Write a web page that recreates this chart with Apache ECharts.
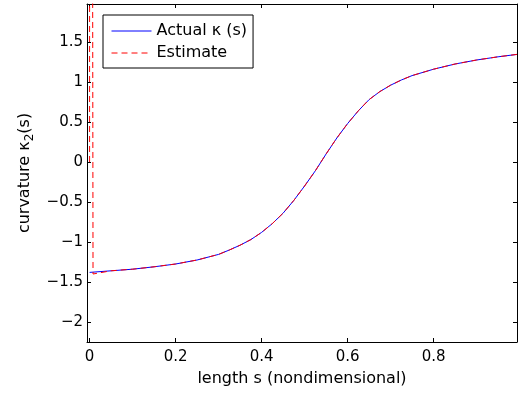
<!DOCTYPE html>
<html><head><meta charset="utf-8">
<script src="https://cdn.jsdelivr.net/npm/echarts@6/dist/echarts.min.js"></script>
<style>html,body{margin:0;padding:0;background:#fff}#c{width:525px;height:394px}</style>
</head><body><div id="c"></div>
<script>
// length s (nondimensional)
const sActual = [0, 0.05, 0.1, 0.15, 0.2, 0.25, 0.3, 0.325, 0.35, 0.375, 0.4, 0.425, 0.45, 0.475, 0.5, 0.525, 0.55, 0.575, 0.6, 0.625, 0.65, 0.675, 0.7, 0.725, 0.75, 0.8, 0.85, 0.9, 0.95, 0.994];
// actual curvature
const kActual = [-1.38, -1.36, -1.34, -1.31, -1.275, -1.225, -1.155, -1.10, -1.04, -0.97, -0.88, -0.77, -0.64, -0.48, -0.30, -0.11, 0.10, 0.30, 0.48, 0.64, 0.78, 0.88, 0.96, 1.025, 1.08, 1.16, 1.225, 1.275, 1.315, 1.345];
// estimate (spike near s = 0, then follows the actual curve)
const sEstimate = [0, 0.0005, 0.008, 0.05, 0.1, 0.15, 0.2, 0.25, 0.3, 0.325, 0.35, 0.375, 0.4, 0.425, 0.45, 0.475, 0.5, 0.525, 0.55, 0.575, 0.6, 0.625, 0.65, 0.675, 0.7, 0.725, 0.75, 0.8, 0.85, 0.9, 0.95, 0.994];
const kEstimate = [0.0, 30, -1.40, -1.36, -1.34, -1.31, -1.275, -1.225, -1.155, -1.10, -1.04, -0.97, -0.88, -0.77, -0.64, -0.48, -0.30, -0.11, 0.10, 0.30, 0.48, 0.64, 0.78, 0.88, 0.96, 1.025, 1.08, 1.16, 1.225, 1.275, 1.315, 1.345];
const xTicks = [0, 0.2, 0.4, 0.6, 0.8];
const yTicks = [-2, -1.5, -1, -0.5, 0, 0.5, 1, 1.5];
const seriesNames = ['Actual \u03ba (s)', 'Estimate'];

const FONT = 'DejaVu Sans';
const fmt = v => String(v).replace('-', '\u2212');
const pair = (xs, ys) => xs.map((x, i) => [x, ys[i]]);

const xr = { min: -0.006, max: 0.994 };
const yr = { min: -2.25, max: 1.975 };
const axisLine = { show: true, onZero: false, lineStyle: { color: '#000', width: 1 } };

const chart = echarts.init(document.getElementById('c'), null, { renderer: 'canvas' });
chart.setOption({
  animation: false,
  backgroundColor: '#fff',
  grid: { left: 87, top: 4, width: 430, height: 338, containLabel: false },
  legend: {
    data: seriesNames,
    orient: 'vertical',
    left: 103, top: 15,
    padding: [8, 6, 7, 8],
    itemWidth: 40, itemHeight: 16, itemGap: 6,
    borderColor: '#000', borderWidth: 1, backgroundColor: '#fff',
    selectedMode: false,
    itemStyle: { opacity: 0 },
    lineStyle: { width: 1 },
    textStyle: { fontFamily: FONT, fontSize: 16, color: '#000', lineHeight: 16 }
  },
  xAxis: [
    {
      type: 'value', position: 'bottom', min: xr.min, max: xr.max,
      axisLine: axisLine,
      axisTick: { inside: true, length: 4, customValues: xTicks, lineStyle: { color: '#000' } },
      axisLabel: { customValues: xTicks, formatter: fmt, fontFamily: FONT, fontSize: 15, color: '#000', margin: 8 },
      splitLine: { show: false },
      name: 'length s (nondimensional)', nameLocation: 'middle', nameGap: 29,
      nameTextStyle: { fontFamily: FONT, fontSize: 16, color: '#000' }
    },
    {
      type: 'value', position: 'top', min: xr.min, max: xr.max,
      axisLine: axisLine,
      axisTick: { inside: true, length: 4, customValues: xTicks, lineStyle: { color: '#000' } },
      axisLabel: { show: false },
      splitLine: { show: false }
    }
  ],
  yAxis: [
    {
      type: 'value', position: 'left', min: yr.min, max: yr.max,
      axisLine: axisLine,
      axisTick: { inside: true, length: 4, customValues: yTicks, lineStyle: { color: '#000' } },
      axisLabel: { customValues: yTicks, formatter: fmt, fontFamily: FONT, fontSize: 15, color: '#000', margin: 4 },
      splitLine: { show: false },
      name: 'curvature \u03ba{sub|2}(s)', nameLocation: 'middle', nameGap: 48, nameRotate: 90,
      nameTextStyle: {
        fontFamily: FONT, fontSize: 16, color: '#000',
        rich: { sub: { fontFamily: FONT, fontSize: 12, color: '#000', verticalAlign: 'bottom', padding: [10, 0, 0, 0] } }
      }
    },
    {
      type: 'value', position: 'right', min: yr.min, max: yr.max,
      axisLine: axisLine,
      axisTick: { inside: true, length: 4, customValues: yTicks, lineStyle: { color: '#000' } },
      axisLabel: { show: false },
      splitLine: { show: false }
    }
  ],
  series: [
    {
      name: seriesNames[0], type: 'line', xAxisIndex: 0, yAxisIndex: 0,
      data: pair(sActual, kActual), symbol: 'none', showSymbol: false, smooth: false,
      color: '#0000ff', lineStyle: { color: '#0000ff', width: 1 }, clip: true
    },
    {
      name: seriesNames[1], type: 'line', xAxisIndex: 0, yAxisIndex: 0,
      data: pair(sEstimate, kEstimate), symbol: 'none', showSymbol: false, smooth: false,
      color: '#ff0000', lineStyle: { color: '#ff0000', width: 1, type: [6, 4] }, clip: true
    }
  ]
});
</script>
</body></html>
